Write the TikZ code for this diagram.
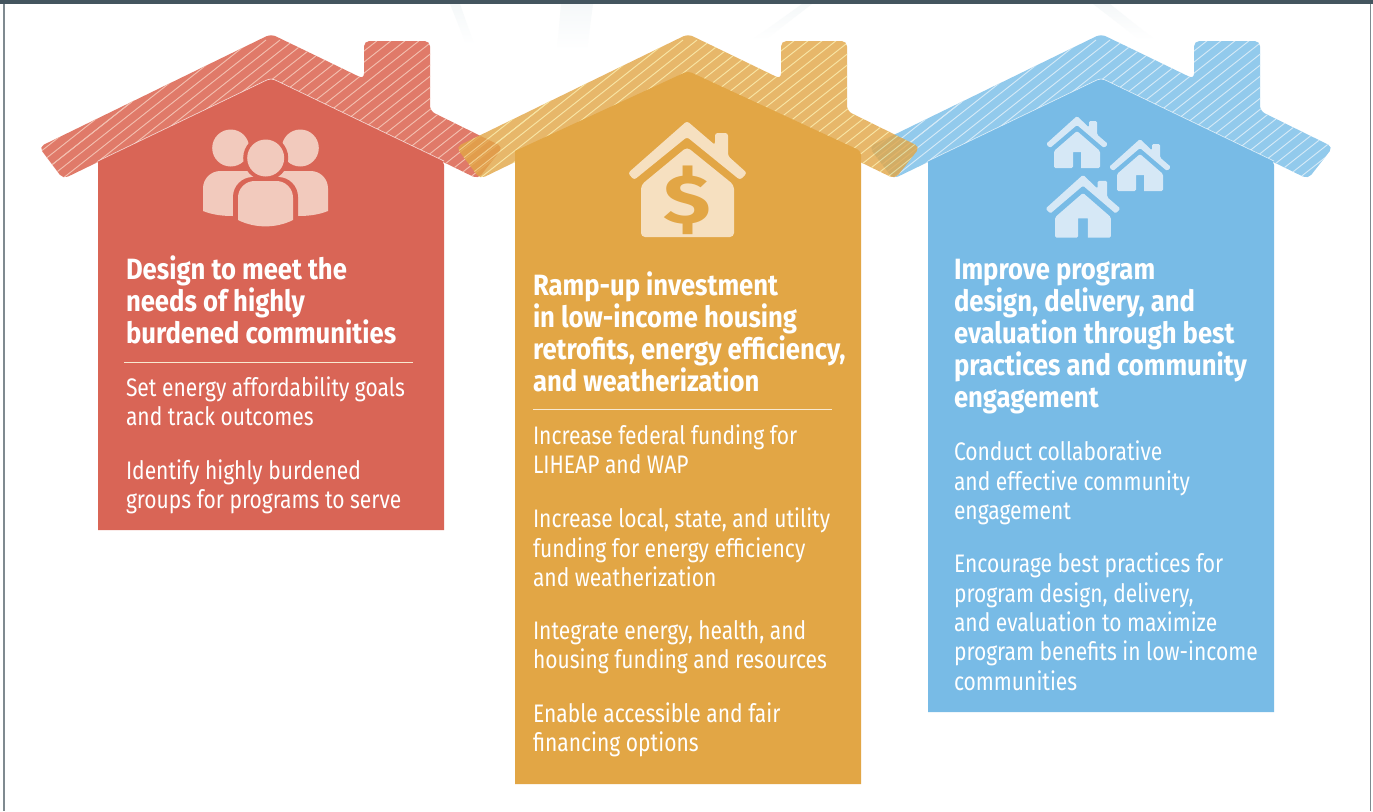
\documentclass[tikz,border=0pt]{standalone}
\usepackage{fontspec}
\setmainfont[FakeStretch=0.83]{Fira Sans}
\newfontfamily\headfont[FakeStretch=0.875]{Fira Sans Bold}
\newfontfamily\dollarfont[FakeStretch=1.25]{Fira Sans Bold}
\definecolor{redbody}{HTML}{D96556}
\definecolor{redroof}{HTML}{E07A69}
\definecolor{redline}{HTML}{F3BFAF}
\definecolor{redicon}{HTML}{F2CABD}
\definecolor{orbody}{HTML}{E2A645}
\definecolor{orline}{HTML}{F6DF8E}
\definecolor{oricon}{HTML}{F6E0C0}
\definecolor{blbody}{HTML}{78BBE6}
\definecolor{blroof}{HTML}{92CAEC}
\definecolor{blline}{HTML}{D5EAF7}
\definecolor{blicon}{HTML}{D6E8F6}
\definecolor{topbar}{HTML}{44555F}
\definecolor{framegrey}{HTML}{7F8A90}
\definecolor{faintray}{HTML}{F5F8F9}
\tikzset{
  head/.style={anchor=north west,inner sep=0pt,outer sep=0pt,text=white,align=left,font=\headfont\fontsize{22}{24}\selectfont},
  para/.style={anchor=north west,inner sep=0pt,outer sep=0pt,text=white,align=left,font=\fontsize{19}{22}\selectfont},
  rulerline/.style={white!75!orbody,line width=0.6pt},
  ray/.style={top color=faintray,bottom color=white},
}
\newcommand{\roofpath}[1]{
  [rounded corners=4pt] (#1+39,147) -- (#1+271,34) -- (#1+364,79) -- (#1+364,41) -- (#1+430,41) -- (#1+430,111) -- (#1+503,147) -- (#1+478,179) -- (#1+271,78) -- (#1+63,179) -- cycle}
\newcommand{\bodypath}[4]{
  [rounded corners=3pt] (#1+98,#3) -- (#1+271,#2) -- (#1+444,#3) [sharp corners] -- (#1+444,#4) -- (#1+98,#4) -- cycle}
\newcommand{\roofshape}[4]{% offset, fill, line, opacity
  \begin{scope}[transparency group,opacity=#4]
    \clip \roofpath{#1};
    \fill[#2] (#1+30,20) rectangle (#1+510,190);
    \foreach \k in {0,...,50}{
      \draw[#3,line width=0.7pt] (#1+20+\k*14,190) -- ++(190,-150);
      \draw[#3,line width=0.7pt] (#1+20-\k*14,190) -- ++(190,-150);
    }
  \end{scope}}
\newcommand{\topline}[3]{\draw[white,opacity=.7,line width=.5pt,rounded corners=3pt] (#1+98,#3) -- (#1+271,#2) -- (#1+444,#3);}
\newcommand{\smallhouse}[4]{% x,y,scale,colour
  \begin{scope}[shift={(#1,#2)},scale=#3]
    \fill[#4,rounded corners=1.1pt] (0,-1) -- (-31,27) -- (-27,31) -- (0,8) -- (27,31) -- (31,27) -- (20,17.5) -- (20,4) -- (12,4) -- (12,10.5) -- cycle;
    \fill[#4,rounded corners=1.1pt] (0,14) -- (-23,34) -- (-23,51) -- (-4,51) [sharp corners] -- (-4,35) -- (4,35) -- (4,51) [rounded corners=1.1pt] -- (23,51) -- (23,34) -- cycle;
  \end{scope}}
\begin{document}
\begin{tikzpicture}[x=0.75pt,y=-0.75pt]
\useasboundingbox (0,0) rectangle (1373,811);
\fill[white] (0,0) rectangle (1373,811);
% faint background rays
\shade[ray] (561,4) -- (593,4) -- (587,50) -- (557,50) -- cycle;
\shade[ray] (450,4) -- (460,4) -- (474,44) -- (466,44) -- cycle;
\shade[ray] (802,4) -- (812,4) -- (765,40) -- (752,40) -- cycle;
\shade[ray] (1093,4) -- (1110,4) -- (1155,40) -- (1140,40) -- cycle;
% frame
\fill[topbar] (0,0) rectangle (1373,4);
\fill[framegrey] (3.3,4) rectangle (4.7,811);
\fill[framegrey] (1370,4) rectangle (1371.4,811);
% roofs
\roofshape{0}{redroof}{redline}{1}
\roofshape{830}{blroof}{blline}{1}
\roofshape{417}{orbody}{orline}{.8}
% bodies
\fill[redbody] \bodypath{0}{78}{161}{530};
\topline{0}{78}{161}
\fill[orbody] \bodypath{417}{71}{151}{784};
\fill[blbody] \bodypath{830}{78}{161}{712};
\topline{830}{78}{161}
% people icon
\fill[redicon] (230.7,148) circle (18.5);
\fill[redicon] (300.3,148) circle (18.5);
\fill[redicon,rounded corners=13pt] (203,211) -- (203,171) -- (328,171) [sharp corners] -- (328,211) .. controls (318,215) and (308,216) .. (298,216) -- (233,216) .. controls (223,216) and (213,215) .. (203,211) -- cycle;
\fill[redbody] (265.7,158) circle (22.5);
\fill[redbody,rounded corners=15pt] (233,245) -- (233,177) -- (298,177) -- (298,245) -- cycle;
\fill[redicon] (265.7,158) circle (18.5);
\fill[redicon,rounded corners=12.5pt] (238,220) -- (238,181) -- (293,181) [sharp corners] -- (293,220) .. controls (276,228.5) and (255,228.5) .. (238,220) -- cycle;
% centre icon
\fill[oricon,rounded corners=2pt] (687,121) -- (628,173) -- (634,180) -- (687,137) -- (740,180) -- (747,173) -- (728,156) -- (728,133) -- (715,133) -- (715,145) -- cycle;
\fill[oricon,rounded corners=3pt] (687,147) -- (641,185) -- (641,237) -- (734,237) -- (734,185) -- cycle;
\node[inner sep=0pt,text=orbody,font=\dollarfont\fontsize{52}{52}\selectfont] (dollar) at (687,200) {\$};
% right icons
\smallhouse{1077}{117}{1}{blicon}
\smallhouse{1140}{140}{1}{blicon}
\smallhouse{1083}{176}{1.21}{blicon}
% red text
\node[head] (h1) at (126,256) {Design to meet the\\needs of highly\\burdened communities};
\draw[rulerline] (124,362) -- (413,362);
\node[para] (p11) at (126,376.5) {Set energy affordability goals\\and track outcomes};
\node[para] (p12) at (126,459.5) {Identify highly burdened\\groups for programs to serve};
% orange text
\node[head] (h2) at (533,272) {Ramp-up investment\\in low-income housing\\retrofits, energy efficiency,\\and weatherization};
\draw[rulerline] (533,409) -- (832,409);
\node[para] (p21) at (533,424.5) {Increase federal funding for\\LIHEAP and WAP};
\node[para] (p22) at (533,508) {Increase local, state, and utility\\funding for energy efficiency\\and weatherization};
\node[para] (p23) at (533,620) {Integrate energy, health, and\\housing funding and resources};
\node[para] (p24) at (533,702.5) {Enable accessible and fair\\financing options};
% blue text
\node[head] (h3) at (954,259) {Improve program\\design, delivery, and\\evaluation through best\\practices and community\\engagement};
\node[para] (p31) at (954,441) {Conduct collaborative\\and effective community\\engagement};
\node[para] (p32) at (954,553) {Encourage best practices for\\program design, delivery,\\and evaluation to maximize\\program benefits in low-income\\communities};
\end{tikzpicture}
\end{document}
